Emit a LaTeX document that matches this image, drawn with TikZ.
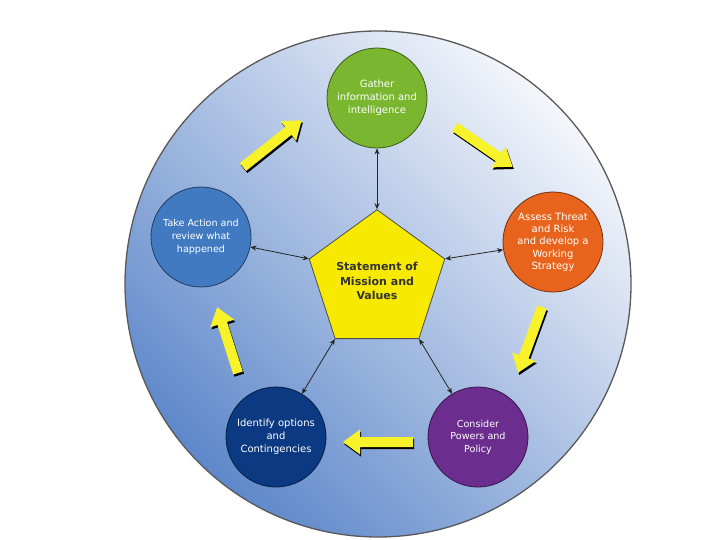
\documentclass[tikz,border=0pt]{standalone}
\usepackage{fontspec}
\setmainfont{DejaVu Sans}
\usetikzlibrary{shapes.geometric,arrows.meta}
\definecolor{cgreen}{HTML}{7AB630}
\definecolor{corange}{HTML}{E8641C}
\definecolor{cblue}{HTML}{427AC2}
\definecolor{cnavy}{HTML}{0C3A82}
\definecolor{cpurple}{HTML}{6B2D8E}
\definecolor{pyellow}{HTML}{F7EA00}
\definecolor{ayellow}{HTML}{F8F22A}
\definecolor{bglight}{HTML}{F4F6FB}
\definecolor{bgmid}{HTML}{BCCCE9}
\definecolor{bgdark}{HTML}{5E88CA}
\newcommand\flowarrow[4]{%
\begin{scope}[shift={(#1,#2)}]
\fill[black, shift={(1.2,2.2)}, rotate=#3] (0,-5) -- (#4-17,-5) -- (#4-17,-12.5) -- (#4,0) -- (#4-17,12.5) -- (#4-17,5) -- (0,5) -- cycle;
\fill[ayellow, rotate=#3] (0,-5) -- (#4-17,-5) -- (#4-17,-12.5) -- (#4,0) -- (#4-17,12.5) -- (#4-17,5) -- (0,5) -- cycle;
\end{scope}}
\begin{document}
\begin{tikzpicture}[x=1pt,y=-1pt,
  stage/.style={circle, minimum size=100pt, inner sep=0pt, line width=0.8pt, text=white, align=center, font=\fontsize{10}{13}\selectfont},
  link/.style={{Stealth[length=6pt,width=5pt]}-{Stealth[length=6pt,width=5pt]}, line width=0.8pt, black!85}]
\useasboundingbox[fill=white] (0,0) rectangle (720,540);
\node[circle, minimum size=506pt, inner sep=0pt, draw=black!65, line width=1.3pt,
  shading=axis, top color=bglight, middle color=bgmid, bottom color=bgdark, shading angle=-45] (bg) at (378,284) {};
\flowarrow{243}{167}{38.5}{75}
\flowarrow{455}{127}{-34.6}{70}
\flowarrow{542}{307}{-110}{70}
\flowarrow{413}{442}{180}{70}
\flowarrow{238}{373}{107.6}{69}
\node[regular polygon, regular polygon sides=5, minimum size=137pt, inner sep=0pt, fill=pyellow, draw=black!70, line width=0.8pt, font=\bfseries\fontsize{11}{14.5}\selectfont, text=black!80, align=center] (mission) at (377,281) {Statement of\\Mission and\\Values};
\node[stage, fill=cgreen, draw=cgreen!50!black] (gather) at (377,98) {Gather\\information and\\intelligence};
\node[stage, fill=corange, draw=corange!50!black, font=\fontsize{10}{12.3}\selectfont] (assess) at (553,242) {Assess Threat\\and Risk\\and develop a\\Working\\Strategy};
\node[stage, fill=cblue, draw=cblue!50!black, font=\fontsize{9.6}{13}\selectfont] (action) at (201,237) {Take Action and\\review what\\happened};
\node[stage, fill=cnavy, draw=cnavy!50!black] (identify) at (276,437) {Identify options\\and\\Contingencies};
\node[stage, fill=cpurple, draw=cpurple!50!black, font=\fontsize{9.6}{12.5}\selectfont] (consider) at (478,437) {Consider\\Powers and\\Policy};
\draw[link] (gather) -- (mission.corner 1);
\draw[link] (action) -- (mission.corner 2);
\draw[link] (identify) -- (mission.corner 3);
\draw[link] (consider) -- (mission.corner 4);
\draw[link] (assess) -- (mission.corner 5);
\end{tikzpicture}
\end{document}
